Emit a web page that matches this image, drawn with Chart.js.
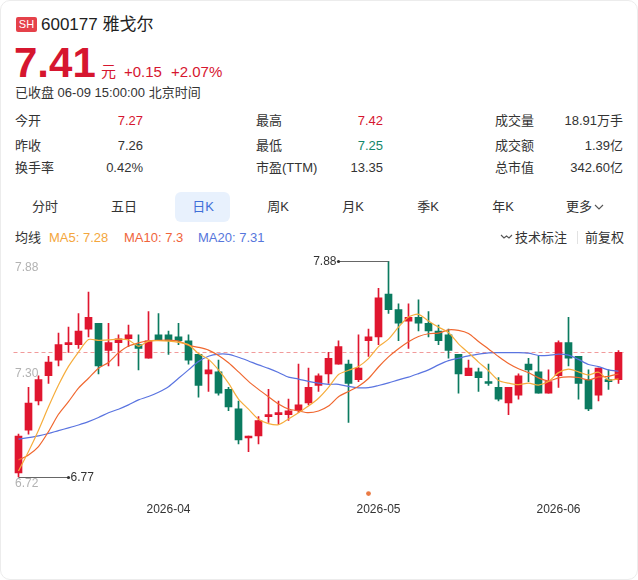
<!DOCTYPE html>
<html lang="zh-CN">
<head>
<meta charset="utf-8">
<title>雅戈尔 日K</title>
<script src="https://cdn.jsdelivr.net/npm/chart.js@4.4.1/dist/chart.umd.min.js"></script>
<style>
  body { margin: 0; background: #fff; font-family: Arial, "Liberation Sans", "Noto Sans CJK SC", sans-serif; color: #333; }
  #card { position: absolute; left: 0; top: 0; width: 636px; height: 578px; border: 1px solid #ececec; border-radius: 10px; }
  .t { position: absolute; white-space: nowrap; line-height: 1; }
  .up { color: #d6162f; }
  .down { color: #13876a; }
  .badge { position: absolute; left: 16px; top: 17px; width: 21px; height: 15px; background: #e5414a; border-radius: 2px; color: #fff; font-size: 11px; line-height: 15px; text-align: center; }
  .tab { position: absolute; top: 200px; font-size: 13px; line-height: 1; transform: translateX(-50%); white-space: nowrap; color: #333; }
  #tabOn { position: absolute; left: 175px; top: 192px; width: 55px; height: 30px; background: #e8f1fd; border-radius: 6px; }
  #box { position: absolute; left: 0; top: 250px; width: 638px; height: 284px; }
</style>
</head>
<body>
<div id="card"></div>

<!-- 标题 -->
<div class="badge">SH</div>
<div class="t" style="left:41px;top:16px;font-size:17px;color:#222;">600177 雅戈尔</div>
<div class="t up" style="left:14px;top:42px;font-size:42px;font-weight:bold;">7.41</div>
<div class="t up" style="left:101px;top:64px;font-size:15px;">元</div>
<div class="t up" style="left:124px;top:64px;font-size:15px;">+0.15</div>
<div class="t up" style="left:171px;top:64px;font-size:15px;">+2.07%</div>
<div class="t" style="left:15px;top:86px;font-size:13px;">已收盘 06-09 15:00:00 北京时间</div>

<!-- 行情数据 -->
<div class="t" style="left:15px;top:114px;font-size:13px;">今开</div>
<div class="t up" style="right:495px;top:114px;font-size:13px;">7.27</div>
<div class="t" style="left:15px;top:139px;font-size:13px;">昨收</div>
<div class="t" style="right:495px;top:139px;font-size:13px;">7.26</div>
<div class="t" style="left:15px;top:161px;font-size:13px;">换手率</div>
<div class="t" style="right:495px;top:161px;font-size:13px;">0.42%</div>

<div class="t" style="left:256px;top:114px;font-size:13px;">最高</div>
<div class="t up" style="right:255px;top:114px;font-size:13px;">7.42</div>
<div class="t" style="left:256px;top:139px;font-size:13px;">最低</div>
<div class="t down" style="right:255px;top:139px;font-size:13px;">7.25</div>
<div class="t" style="left:256px;top:161px;font-size:13px;">市盈(TTM)</div>
<div class="t" style="right:255px;top:161px;font-size:13px;">13.35</div>

<div class="t" style="left:495px;top:114px;font-size:13px;">成交量</div>
<div class="t" style="right:15px;top:114px;font-size:13px;">18.91万手</div>
<div class="t" style="left:495px;top:139px;font-size:13px;">成交额</div>
<div class="t" style="right:15px;top:139px;font-size:13px;">1.39亿</div>
<div class="t" style="left:495px;top:161px;font-size:13px;">总市值</div>
<div class="t" style="right:15px;top:161px;font-size:13px;">342.60亿</div>

<!-- 周期切换 -->
<div id="tabOn"></div>
<div class="tab" style="left:45px;">分时</div>
<div class="tab" style="left:124px;">五日</div>
<div class="tab" style="left:203px;color:#3f6fd8;">日K</div>
<div class="tab" style="left:278px;">周K</div>
<div class="tab" style="left:353px;">月K</div>
<div class="tab" style="left:428px;">季K</div>
<div class="tab" style="left:503px;">年K</div>
<div class="tab" style="left:579px;">更多</div>
<svg style="position:absolute;left:594px;top:203px;" width="10" height="8"><polyline points="1,2 5,6 9,2" fill="none" stroke="#555" stroke-width="1.1"/></svg>

<!-- 均线图例 -->
<div class="t" style="left:15px;top:231px;font-size:13px;">均线</div>
<div class="t" style="left:49px;top:231px;font-size:13px;color:#f4a63c;">MA5: 7.28</div>
<div class="t" style="left:124px;top:231px;font-size:13px;color:#f0643a;">MA10: 7.3</div>
<div class="t" style="left:198px;top:231px;font-size:13px;color:#5676dc;">MA20: 7.31</div>
<svg style="position:absolute;left:500px;top:233px;" width="13" height="8"><polyline points="1,2 4,5 6.5,3 9,5 12,2" fill="none" stroke="#555" stroke-width="1.1"/></svg>
<div class="t" style="left:515px;top:231px;font-size:13px;">技术标注</div>
<div style="position:absolute;left:577px;top:231px;width:1px;height:13px;background:#e2e2e2;"></div>
<div class="t" style="left:585px;top:231px;font-size:13px;">前复权</div>

<div id="box"><canvas id="kline" width="638" height="284"></canvas></div>

<script>
// 交易日
const dates = [
  '2026-03-11','2026-03-12','2026-03-13','2026-03-16','2026-03-17','2026-03-18','2026-03-19','2026-03-20',
  '2026-03-23','2026-03-24','2026-03-25','2026-03-26','2026-03-27','2026-03-30','2026-03-31',
  '2026-04-01','2026-04-02','2026-04-03','2026-04-07','2026-04-08','2026-04-09','2026-04-10',
  '2026-04-13','2026-04-14','2026-04-15','2026-04-16','2026-04-17','2026-04-20','2026-04-21',
  '2026-04-22','2026-04-23','2026-04-24','2026-04-27','2026-04-28','2026-04-29','2026-04-30',
  '2026-05-06','2026-05-07','2026-05-08','2026-05-11','2026-05-12','2026-05-13','2026-05-14',
  '2026-05-15','2026-05-18','2026-05-19','2026-05-20','2026-05-21','2026-05-22','2026-05-25',
  '2026-05-26','2026-05-27','2026-05-28','2026-05-29',
  '2026-06-01','2026-06-02','2026-06-03','2026-06-04','2026-06-05','2026-06-08','2026-06-09'
];

// K线数据（开、收、高、低）
const openPrices = [
  6.79, 7.01, 7.16, 7.29, 7.37, 7.45, 7.45, 7.53, 7.56, 7.42,
  7.46, 7.48, 7.45, 7.38, 7.50, 7.50, 7.49, 7.47, 7.40, 7.30,
  7.31, 7.22, 7.12, 6.97, 6.98, 7.08, 7.09, 7.09, 7.11, 7.15,
  7.24, 7.30, 7.35, 7.35, 7.27, 7.47, 7.49, 7.71, 7.63, 7.57,
  7.59, 7.56, 7.52, 7.50, 7.40, 7.29, 7.31, 7.26, 7.23, 7.15,
  7.19, 7.35, 7.31, 7.20, 7.29, 7.46, 7.39, 7.27, 7.19, 7.27,
  7.27
];
const closePrices = [
  6.98, 7.15, 7.27, 7.36, 7.45, 7.46, 7.52, 7.59, 7.34, 7.46,
  7.48, 7.50, 7.43, 7.47, 7.47, 7.47, 7.47, 7.37, 7.24, 7.32,
  7.20, 7.13, 6.96, 6.98, 7.06, 7.09, 7.10, 7.11, 7.14, 7.23,
  7.29, 7.38, 7.44, 7.25, 7.33, 7.49, 7.69, 7.63, 7.56, 7.59,
  7.56, 7.52, 7.47, 7.42, 7.30, 7.33, 7.28, 7.25, 7.17, 7.23,
  7.29, 7.32, 7.20, 7.26, 7.46, 7.38, 7.25, 7.12, 7.33, 7.26,
  7.41
];
const highPrices = [
  6.99, 7.23, 7.29, 7.39, 7.51, 7.54, 7.61, 7.72, 7.56, 7.56,
  7.50, 7.55, 7.50, 7.62, 7.61, 7.52, 7.56, 7.50, 7.40, 7.37,
  7.37, 7.23, 7.16, 6.98, 7.08, 7.22, 7.16, 7.17, 7.35, 7.33,
  7.30, 7.41, 7.47, 7.37, 7.50, 7.53, 7.74, 7.88, 7.66, 7.66,
  7.68, 7.62, 7.55, 7.53, 7.40, 7.37, 7.33, 7.35, 7.28, 7.23,
  7.30, 7.38, 7.39, 7.32, 7.47, 7.59, 7.39, 7.32, 7.33, 7.32,
  7.42
];
const lowPrices = [
  6.77, 6.99, 7.14, 7.25, 7.34, 7.41, 7.43, 7.49, 7.30, 7.34,
  7.34, 7.44, 7.32, 7.38, 7.47, 7.40, 7.45, 7.35, 7.18, 7.21,
  7.19, 7.11, 6.94, 6.90, 6.94, 7.05, 7.04, 7.06, 7.10, 7.14,
  7.21, 7.25, 7.35, 7.05, 7.26, 7.39, 7.45, 7.61, 7.47, 7.43,
  7.52, 7.49, 7.45, 7.38, 7.20, 7.29, 7.21, 7.24, 7.16, 7.09,
  7.17, 7.26, 7.20, 7.20, 7.23, 7.34, 7.17, 7.11, 7.16, 7.22,
  7.25
];

// 均线
const ma5 = [
  6.80, 6.90, 7.01, 7.13, 7.242, 7.338, 7.412, 7.476, 7.472, 7.474,
  7.478, 7.474, 7.442, 7.468, 7.47, 7.468, 7.462, 7.45, 7.404, 7.374,
  7.32, 7.252, 7.17, 7.118, 7.066, 7.044, 7.038, 7.068, 7.10, 7.134,
  7.174, 7.23, 7.296, 7.318, 7.338, 7.378, 7.44, 7.478, 7.54, 7.592,
  7.606, 7.572, 7.54, 7.512, 7.454, 7.408, 7.36, 7.316, 7.266, 7.252,
  7.244, 7.252, 7.242, 7.26, 7.306, 7.324, 7.31, 7.294, 7.308, 7.268,
  7.274
];
const ma10 = [
  6.857, 6.883, 6.926, 7.003, 7.092, 7.157, 7.226, 7.277, 7.329, 7.358,
  7.408, 7.443, 7.459, 7.47, 7.472, 7.473, 7.468, 7.446, 7.436, 7.422,
  7.394, 7.357, 7.31, 7.261, 7.22, 7.182, 7.145, 7.119, 7.109, 7.10,
  7.109, 7.134, 7.182, 7.209, 7.236, 7.276, 7.335, 7.387, 7.429, 7.465,
  7.492, 7.506, 7.509, 7.526, 7.523, 7.507, 7.466, 7.428, 7.389, 7.353,
  7.326, 7.306, 7.279, 7.263, 7.279, 7.284, 7.281, 7.268, 7.284, 7.287,
  7.299
];
const ma20 = [
  6.964, 6.972, 6.981, 6.993, 7.008, 7.022, 7.037, 7.054, 7.075, 7.10,
  7.118, 7.14, 7.166, 7.183, 7.205, 7.234, 7.277, 7.32, 7.363, 7.39,
  7.401, 7.40, 7.385, 7.366, 7.346, 7.328, 7.307, 7.283, 7.273, 7.261,
  7.252, 7.246, 7.246, 7.235, 7.228, 7.229, 7.24, 7.253, 7.269, 7.283,
  7.301, 7.32, 7.346, 7.368, 7.38, 7.392, 7.401, 7.408, 7.409, 7.409,
  7.409, 7.406, 7.394, 7.395, 7.401, 7.396, 7.374, 7.348, 7.337, 7.32,
  7.313
];

// 纵轴刻度、最新价、事件标记
const yTicks = [7.88, 7.30, 6.72];
const lastPrice = 7.41;
const eventDays = ['2026-04-30'];

// 颜色
const colors = {
  up: '#e0162f',
  down: '#0b7b60',
  ma5: '#f6ad3c',
  ma10: '#f0672f',
  ma20: '#5a74e0'
};

const candleColors = openPrices.map((o, i) => closePrices[i] >= o ? colors.up : colors.down);

// 纵轴标签、最新价虚线、最高最低标注
const markPlugin = {
  id: 'marks',
  beforeDatasetsDraw(chart) {
    const {ctx, chartArea, scales: {y}} = chart;
    const py = Math.round(y.getPixelForValue(lastPrice)) + 0.5;
    ctx.save();
    ctx.strokeStyle = '#f19a9a';
    ctx.lineWidth = 1;
    ctx.setLineDash([4, 3]);
    ctx.beginPath();
    ctx.moveTo(chartArea.left, py);
    ctx.lineTo(chartArea.right, py);
    ctx.stroke();
    ctx.restore();
  },
  afterDatasetsDraw(chart) {
    const {ctx, chartArea, scales: {x, y}} = chart;
    ctx.save();

    // 纵轴标签（画在图内）
    ctx.font = '12px Arial, "Liberation Sans", sans-serif';
    ctx.fillStyle = '#b2b2b2';
    ctx.textAlign = 'left';
    ctx.textBaseline = 'middle';
    yTicks.forEach((v, i) => {
      let py = y.getPixelForValue(v);
      if (i === 0) py += 7;
      if (i === yTicks.length - 1) py -= 3;
      ctx.fillText(v.toFixed(2), 15, py);
    });

    // 最高、最低标注
    const hi = Math.max(...highPrices);
    const lo = Math.min(...lowPrices);
    const marks = [
      {v: hi, i: highPrices.indexOf(hi)},
      {v: lo, i: lowPrices.indexOf(lo)}
    ];
    ctx.fillStyle = '#333';
    ctx.strokeStyle = '#666';
    ctx.lineWidth = 1;
    marks.forEach(m => {
      const px = x.getPixelForValue(m.i);
      const py = Math.round(y.getPixelForValue(m.v)) + 0.5;
      const toLeft = m.i > dates.length / 2;
      const ex = toLeft ? px - 50 : px + 50;
      ctx.beginPath();
      ctx.moveTo(px, py);
      ctx.lineTo(ex, py);
      ctx.stroke();
      ctx.beginPath();
      ctx.arc(ex, py, 1.6, 0, Math.PI * 2);
      ctx.fill();
      ctx.textAlign = toLeft ? 'right' : 'left';
      ctx.fillText(m.v.toFixed(2), toLeft ? ex - 2 : ex + 2, py);
    });

    // 事件标记
    ctx.fillStyle = '#ea7a44';
    eventDays.forEach(d => {
      const px = x.getPixelForValue(dates.indexOf(d));
      ctx.beginPath();
      ctx.arc(px, chartArea.bottom + 7, 2.4, 0, Math.PI * 2);
      ctx.fill();
    });
    ctx.restore();
  }
};

const ctx = document.getElementById('kline').getContext('2d');
new Chart(ctx, {
  type: 'bar',
  data: {
    labels: dates,
    datasets: [
      {
        type: 'line', label: 'MA5', data: ma5, order: 0,
        borderColor: colors.ma5, borderWidth: 1.2, pointRadius: 0, tension: 0.25
      },
      {
        type: 'line', label: 'MA10', data: ma10, order: 0,
        borderColor: colors.ma10, borderWidth: 1.2, pointRadius: 0, tension: 0.25
      },
      {
        type: 'line', label: 'MA20', data: ma20, order: 0,
        borderColor: colors.ma20, borderWidth: 1.2, pointRadius: 0, tension: 0.25
      },
      {
        label: 'body', order: 1, grouped: false,
        data: openPrices.map((o, i) => [o, closePrices[i]]),
        backgroundColor: candleColors, barThickness: 7, minBarLength: 1
      },
      {
        label: 'wick', order: 2, grouped: false,
        data: lowPrices.map((l, i) => [l, highPrices[i]]),
        backgroundColor: candleColors, barThickness: 1
      }
    ]
  },
  options: {
    responsive: false,
    animation: false,
    events: [],
    layout: { padding: { left: 13.5, right: 14.5, top: 11, bottom: 1 } },
    plugins: { legend: { display: false }, tooltip: { enabled: false } },
    scales: {
      x: {
        grid: { display: false, drawTicks: false },
        border: { display: false },
        ticks: {
          autoSkip: false,
          maxRotation: 0,
          padding: 16,
          color: '#333',
          font: { size: 12, family: 'Arial, "Liberation Sans", sans-serif' },
          callback: function(v, i) {
            const m = dates[i].slice(0, 7);
            return (i > 0 && m !== dates[i - 1].slice(0, 7)) ? m : '';
          }
        }
      },
      y: { display: false, min: 6.72, max: 7.88 }
    }
  },
  plugins: [markPlugin]
});
</script>
</body>
</html>
